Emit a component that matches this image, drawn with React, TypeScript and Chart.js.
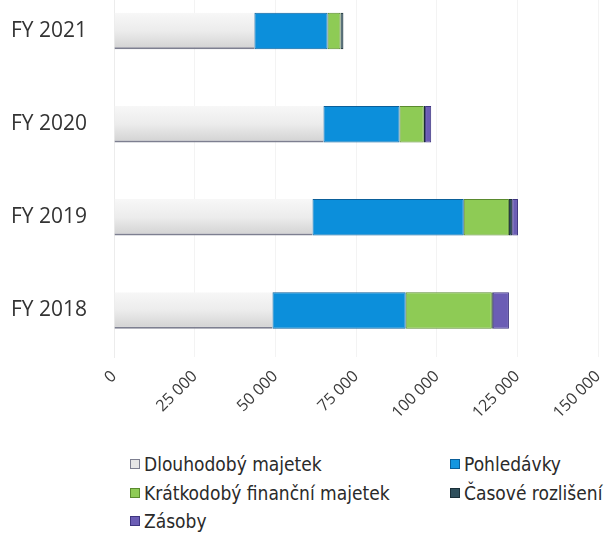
import React, { useEffect, useRef } from "react";
import { Chart, registerables } from "chart.js";

Chart.register(...registerables);

const categories = ["FY 2021", "FY 2020", "FY 2019", "FY 2018"];
const seriesNames = [
  "Dlouhodobý majetek",
  "Pohledávky",
  "Krátkodobý finanční majetek",
  "Časové rozlišení",
  "Zásoby",
];
const dlouhodobyMajetek = [43500, 64900, 61500, 49100];
const pohledavky = [22700, 23600, 46900, 41300];
const kratkodobyFinancniMajetek = [4000, 7500, 14000, 26700];
const casoveRozliseni = [900, 400, 1000, 300];
const zasoby = [0, 1900, 1800, 5000];
const xTicks = [0, 25000, 50000, 75000, 100000, 125000, 150000];

const fills = ["#e6e6e6", "#0c8fdb", "#8ecb55", "#2b4f5c", "#6b5db5"];
const borders = ["#7d7f90", "#0a5f9a", "#5a8a2e", "#1a2f38", "#3e3580"];
const legendFills = ["#e6e6e6", "#1496e0", "#8ecb55", "#2e4f5c", "#6b5db5"];

const fmt = (v: number) => {
  const s = String(Math.round(v));
  return s.replace(/\B(?=(\d{3})+(?!\d))/g, " ");
};

export default function App() {
  const ref = useRef<HTMLCanvasElement | null>(null);

  useEffect(() => {
    document.body.style.margin = "0";
    const ctx = ref.current;
    if (!ctx) return;
    const values = [dlouhodobyMajetek, pohledavky, kratkodobyFinancniMajetek, casoveRozliseni, zasoby];
    const chart = new Chart(ctx, {
      type: "bar",
      data: {
        labels: categories,
        datasets: seriesNames.map((name, i) => ({
          label: name,
          data: values[i],
          backgroundColor:
            i === 0
              ? (c: any) => {
                  const ch = c.chart;
                  const ys = ch.scales && ch.scales.y;
                  if (!ys || c.dataIndex === undefined) return fills[0];
                  const yc = ys.getPixelForValue(c.dataIndex);
                  if (!isFinite(yc)) return fills[0];
                  const g = ch.ctx.createLinearGradient(0, yc - 18, 0, yc + 18);
                  g.addColorStop(0, "#f7f7f7");
                  g.addColorStop(0.5, "#ececec");
                  g.addColorStop(1, "#d2d2d2");
                  return g;
                }
              : fills[i],
          borderColor: borders[i],
          borderWidth: i === 0 ? { bottom: 2, top: 0, left: 0, right: 0 } : 1,
          borderSkipped: false,
          barPercentage: 0.8,
          categoryPercentage: 0.49,
        })),
      },
      options: {
        indexAxis: "y",
        animation: false,
        responsive: false,
        maintainAspectRatio: false,
        layout: { padding: { top: 14.5, right: 12, left: 0, bottom: 0 } },
        plugins: {
          legend: { display: false },
          tooltip: { enabled: false },
        },
        scales: {
          x: {
            stacked: true,
            min: 0,
            max: 150000,
            afterBuildTicks: (axis: any) => {
              axis.ticks = xTicks.map((v) => ({ value: v }));
            },
            afterFit: (axis: any) => {
              axis.height = 80;
              axis.paddingLeft = 0;
              axis.paddingRight = 0;
            },
            grid: { color: "#f3f3f3", drawTicks: false },
            border: { display: false },
            ticks: {
              minRotation: 45,
              maxRotation: 45,
              padding: 10,
              color: "#3a3a3a",
              font: { family: "Open Sans", size: 16 },
              callback: (v: any) => fmt(Number(v)),
            },
          },
          y: {
            stacked: true,
            afterFit: (axis: any) => {
              axis.width = 114;
              axis.paddingTop = 0;
              axis.paddingBottom = 0;
            },
            grid: { display: false },
            border: { display: true, color: "#ececec" },
            ticks: {
              padding: 19,
              color: "#333333",
              font: { family: "Open Sans", size: 21 },
            },
          },
        },
      },
    });
    return () => chart.destroy();
  }, []);

  const legendPos = [
    { left: 130, top: 451 },
    { left: 450, top: 451 },
    { left: 130, top: 480 },
    { left: 450, top: 480 },
    { left: 130, top: 508 },
  ];

  return (
    <div style={{ position: "relative", width: 610, height: 558, overflow: "hidden", background: "#ffffff" }}>
      <canvas
        ref={ref}
        width={610}
        height={467}
        style={{ position: "absolute", left: 0, top: -30, width: 610, height: 467 }}
      />
      {seriesNames.map((name, i) => (
        <div
          key={name}
          style={{
            position: "absolute",
            left: legendPos[i].left,
            top: legendPos[i].top,
            display: "flex",
            alignItems: "center",
            fontFamily: "DejaVu Sans Condensed",
            fontSize: 19,
            color: "#2a2a2a",
            whiteSpace: "nowrap",
            lineHeight: "26px",
          }}
        >
          <span
            style={{
              display: "inline-block",
              width: 10,
              height: 10,
              background: legendFills[i],
              border: "1px solid " + borders[i],
              marginRight: 4,
              boxSizing: "border-box",
            }}
          />
          {name}
        </div>
      ))}
    </div>
  );
}
